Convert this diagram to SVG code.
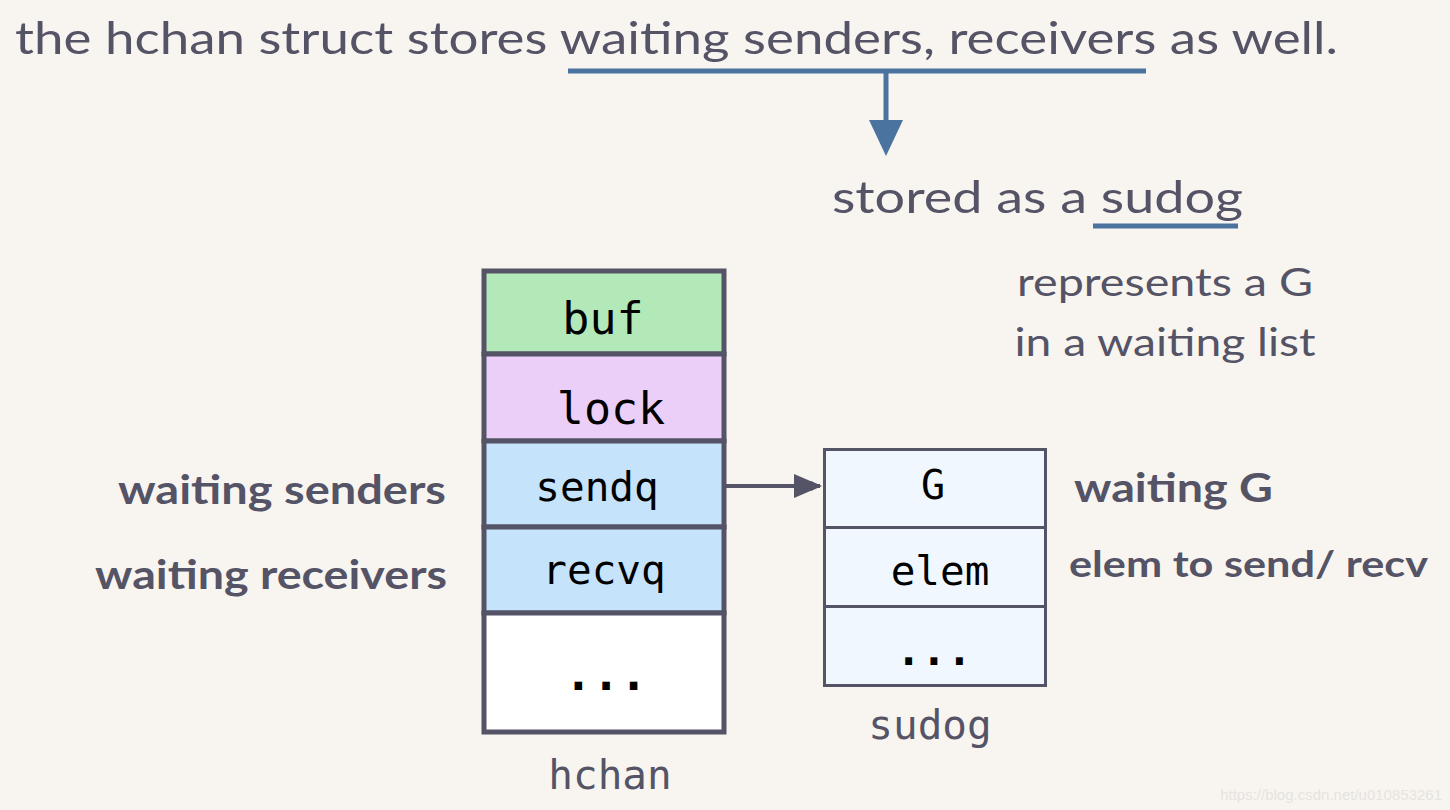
<svg xmlns="http://www.w3.org/2000/svg" width="1450" height="810" viewBox="0 0 1450 810">
<style>
.t{font-family:"Lato","Open Sans","Liberation Sans",sans-serif;fill:#555366}
.b{font-family:"Lato","Open Sans","Liberation Sans",sans-serif;font-weight:bold;fill:#555366}
.m{font-family:"DejaVu Sans Mono","Liberation Mono",monospace;fill:#000}
.ml{font-family:"DejaVu Sans Mono","Liberation Mono",monospace;fill:#555366}
.cell{stroke:#555366;stroke-width:5}
.scell{fill:#f0f7fe;stroke:#555366;stroke-width:3}
</style>
<defs>
<marker id="ah" markerWidth="10" markerHeight="10" refX="9" refY="5" orient="auto" markerUnits="userSpaceOnUse" viewBox="0 0 10 10">
<path d="M0,0 L10,5 L0,10 z" fill="#555366"/>
</marker>
</defs>
<rect width="1450" height="810" fill="#f8f5f0"/>
<g id="title">
<text class="t" x="15" y="54" font-size="44" textLength="1323" lengthAdjust="spacingAndGlyphs">the hchan struct stores waiting senders, receivers as well.</text>
</g>
<g id="stored">
<text class="t" x="832" y="213" font-size="44" textLength="411" lengthAdjust="spacingAndGlyphs">stored as a sudog</text>
<line x1="1093" y1="226" x2="1238" y2="226" stroke="#4a73a0" stroke-width="5"/>
</g>
<g id="represents">
<text class="t" x="1165" y="296" font-size="38" text-anchor="middle" textLength="296" lengthAdjust="spacingAndGlyphs">represents a G</text>
<text class="t" x="1165" y="356" font-size="38" text-anchor="middle" textLength="301" lengthAdjust="spacingAndGlyphs">in a waiting list</text>
</g>
<g id="hchan">
<rect class="cell" x="484" y="271" width="240" height="83" fill="#b3e8b9"/>
<rect class="cell" x="484" y="354" width="240" height="87" fill="#eccff8"/>
<rect class="cell" x="484" y="441" width="240" height="86" fill="#c5e3fb"/>
<rect class="cell" x="484" y="527" width="240" height="86" fill="#c5e3fb"/>
<rect class="cell" x="484" y="613" width="240" height="119" fill="#ffffff"/>
<text class="m" x="603" y="334" font-size="45" text-anchor="middle">buf</text>
<text class="m" x="611" y="424" font-size="45" text-anchor="middle">lock</text>
<text class="m" x="597" y="501" font-size="41" text-anchor="middle">sendq</text>
<text class="m" x="604" y="584" font-size="41" text-anchor="middle">recvq</text>
<text class="m" x="606" y="690" font-size="46" font-weight="bold" text-anchor="middle">...</text>
<text class="ml" x="610" y="789" font-size="41" text-anchor="middle">hchan</text>
</g>
<g id="sudog">
<rect class="scell" x="824.5" y="449.5" width="221" height="78"/>
<rect class="scell" x="824.5" y="527.5" width="221" height="79"/>
<rect class="scell" x="824.5" y="606.5" width="221" height="79"/>
<text class="m" x="933" y="499" font-size="40" text-anchor="middle">G</text>
<text class="m" x="940" y="585" font-size="41" text-anchor="middle">elem</text>
<text class="m" x="934" y="665" font-size="42" font-weight="bold" text-anchor="middle">...</text>
<text class="ml" x="930" y="739" font-size="41" text-anchor="middle">sudog</text>
</g>
<g id="labels">
<text class="b" x="446" y="504" font-size="40" text-anchor="end" textLength="328" lengthAdjust="spacingAndGlyphs">waiting senders</text>
<text class="b" x="447" y="589" font-size="40" text-anchor="end" textLength="352" lengthAdjust="spacingAndGlyphs">waiting receivers</text>
<text class="b" x="1074" y="502" font-size="40" textLength="199" lengthAdjust="spacingAndGlyphs">waiting G</text>
<text class="b" x="1069" y="577" font-size="36" textLength="359" lengthAdjust="spacingAndGlyphs">elem to send/ recv</text>
</g>
<g id="connectors">
<line x1="568" y1="71" x2="1146" y2="71" stroke="#4a73a0" stroke-width="5"/>
<line x1="886" y1="71" x2="886" y2="122" stroke="#4a73a0" stroke-width="5"/>
<path d="M869,120 L903,120 L886,156 z" fill="#4a73a0"/>
<line x1="726" y1="486" x2="820" y2="486" stroke="#555366" stroke-width="4" marker-end="url(#ah)"/>
<path d="M794,474 L822,486 L794,498 z" fill="#555366"/>
</g>
<text x="1442" y="800" font-family="Liberation Sans,sans-serif" font-size="15" fill="#e6e3de" text-anchor="end">https://blog.csdn.net/u010853261</text>
</svg>
